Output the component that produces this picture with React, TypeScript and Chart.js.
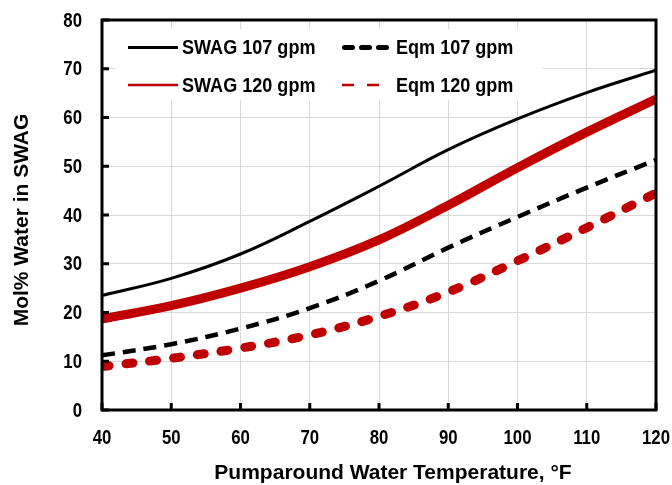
import React, { useEffect, useRef } from "react";
import { Chart, registerables } from "chart.js";

Chart.register(...registerables);

// ---- data ----
const temps = [40, 50, 60, 70, 80, 90, 100, 110, 120];
const swag107 = [23.5, 27.0, 32.0, 38.7, 45.9, 53.4, 59.7, 65.1, 69.7];
const swag120 = [18.7, 21.4, 25.0, 29.4, 34.9, 42.0, 49.7, 57.0, 63.8];
const eqm107 = [11.2, 13.5, 16.7, 20.9, 26.5, 33.3, 39.6, 45.6, 51.3];
const eqm120 = [8.9, 10.6, 12.7, 15.4, 19.2, 24.2, 30.6, 37.4, 44.5];

const seriesLabels = ["SWAG 107 gpm", "Eqm 107 gpm", "SWAG 120 gpm", "Eqm 120 gpm"];
const xTitle = "Pumparound Water Temperature, \u00B0F";
const yTitle = "Mol% Water in SWAG";

const BLACK = "#000000";
const RED = "#c00000";
const GRID = "#d9d9d9";
const SANS = "'Liberation Sans', Arial, sans-serif";
const NARROW_SCALE = 0.84; // horizontal squeeze to imitate a narrow face

const toPts = (ys: number[]) => temps.map((t, i) => ({ x: t, y: ys[i] }));

// legend sample styles (col/row layout inside the plot area)
const legendItems = [
  { label: seriesLabels[0], color: BLACK, width: 3, dash: [] as number[], cap: "butt", col: 0, row: 0 },
  { label: seriesLabels[1], color: BLACK, width: 5, dash: [8, 9], cap: "round", col: 1, row: 0 },
  { label: seriesLabels[2], color: RED, width: 2.5, dash: [] as number[], cap: "butt", col: 0, row: 1 },
  { label: seriesLabels[3], color: RED, width: 2.5, dash: [12, 13], cap: "butt", col: 1, row: 1 },
];

function narrowText(ctx: any, text: string, x: number, y: number, align: string, sx: number) {
  ctx.save();
  ctx.translate(x, y);
  ctx.scale(sx, 1);
  ctx.textAlign = align;
  ctx.fillText(text, 0, 0);
  ctx.restore();
}

const legendPlugin = {
  id: "customLegend",
  afterDatasetsDraw(chart: any) {
    const { ctx, chartArea: a } = chart;
    ctx.save();
    ctx.fillStyle = "#ffffff";
    ctx.fillRect(a.left + 13, a.top + 9, 428, 71);
    const colX = [a.left + 26, a.left + 240];
    const rowY = [a.top + 27.5, a.top + 65];
    const sampleLen = 50;
    ctx.font = `bold 21px ${SANS}`;
    ctx.textBaseline = "middle";
    legendItems.forEach((it) => {
      const x0 = colX[it.col];
      const y0 = rowY[it.row];
      ctx.beginPath();
      ctx.setLineDash(it.dash);
      ctx.lineCap = it.cap;
      ctx.lineWidth = it.width;
      ctx.strokeStyle = it.color;
      ctx.moveTo(x0 + (it.cap === "round" ? it.width / 2 : 0), y0);
      ctx.lineTo(x0 + sampleLen, y0);
      ctx.stroke();
      ctx.setLineDash([]);
      ctx.fillStyle = BLACK;
      narrowText(ctx, it.label, x0 + sampleLen + 4, y0 + 1, "left", 0.86);
    });
    ctx.restore();
  },
};

const framePlugin = {
  id: "frameTicks",
  afterDraw(chart: any) {
    const { ctx, chartArea: a, scales } = chart;
    const xs = scales.x;
    const ys = scales.y;
    ctx.save();
    ctx.strokeStyle = BLACK;
    ctx.lineWidth = 3;
    ctx.lineCap = "butt";
    ctx.beginPath();
    xs.ticks.forEach((t: any) => {
      const px = xs.getPixelForValue(t.value);
      ctx.moveTo(px, a.bottom);
      ctx.lineTo(px, a.bottom - 7);
    });
    ys.ticks.forEach((t: any) => {
      const py = ys.getPixelForValue(t.value);
      ctx.moveTo(a.left, py);
      ctx.lineTo(a.left + 7, py);
    });
    ctx.stroke();
    ctx.strokeRect(a.left, a.top, a.right - a.left, a.bottom - a.top);

    // tick labels (narrow bold)
    ctx.fillStyle = BLACK;
    ctx.font = `bold 20px ${SANS}`;
    ctx.textBaseline = "middle";
    xs.ticks.forEach((t: any) => {
      const px = xs.getPixelForValue(t.value);
      narrowText(ctx, String(t.label), px, a.bottom + 28, "center", NARROW_SCALE);
    });
    ys.ticks.forEach((t: any) => {
      const py = ys.getPixelForValue(t.value);
      narrowText(ctx, String(t.label), a.left - 20, py + 1, "right", NARROW_SCALE);
    });

    // axis titles
    ctx.font = `bold 21px ${SANS}`;
    narrowText(ctx, xTitle, (a.left + a.right) / 2 + 14, a.bottom + 63, "center", 1);
    ctx.save();
    ctx.translate(22, (a.top + a.bottom) / 2 + 5);
    ctx.rotate(-Math.PI / 2);
    ctx.textAlign = "center";
    ctx.fillText(yTitle, 0, 0);
    ctx.restore();
    ctx.restore();
  },
};

export default function App() {
  const ref = useRef<HTMLCanvasElement | null>(null);

  useEffect(() => {
    if (!ref.current) return;
    const chart = new Chart(ref.current, {
      type: "line",
      data: {
        datasets: [
          {
            label: seriesLabels[0],
            data: toPts(swag107),
            borderColor: BLACK,
            borderWidth: 3,
            pointRadius: 0,
            tension: 0.4,
            clip: 0,
          },
          {
            label: seriesLabels[1],
            data: toPts(eqm107),
            borderColor: BLACK,
            borderWidth: 4.5,
            borderDash: [13, 8],
            pointRadius: 0,
            tension: 0.4,
            clip: 0,
          },
          {
            label: seriesLabels[2],
            data: toPts(swag120),
            borderColor: RED,
            borderWidth: 9,
            pointRadius: 0,
            tension: 0.4,
            clip: 0,
          },
          {
            label: seriesLabels[3],
            data: toPts(eqm120),
            borderColor: RED,
            borderWidth: 9,
            borderDash: [7, 17],
            borderCapStyle: "round",
            pointRadius: 0,
            tension: 0.4,
            clip: 0,
          },
        ],
      } as any,
      options: {
        animation: false,
        responsive: false,
        maintainAspectRatio: false,
        layout: { padding: { left: 0, top: 20, right: 16, bottom: 0 } },
        plugins: {
          legend: { display: false },
          tooltip: { enabled: false },
        },
        scales: {
          x: {
            type: "linear",
            min: 40,
            max: 120,
            ticks: { stepSize: 10, display: false },
            grid: { color: GRID, lineWidth: 1, drawTicks: false },
            border: { display: false },
            title: { display: false, text: xTitle },
            afterFit: (s: any) => {
              s.height = 75;
              s.paddingLeft = 0;
              s.paddingRight = 0;
            },
          },
          y: {
            min: 0,
            max: 80,
            ticks: { stepSize: 10, display: false },
            grid: { color: GRID, lineWidth: 1, drawTicks: false },
            border: { display: false },
            title: { display: false, text: yTitle },
            afterFit: (s: any) => {
              s.width = 102;
              s.paddingTop = 0;
              s.paddingBottom = 0;
            },
          },
        },
      } as any,
      plugins: [legendPlugin, framePlugin],
    });
    return () => chart.destroy();
  }, []);

  return (
    <div style={{ position: "fixed", left: 0, top: 0, width: 672, height: 485, background: "#ffffff" }}>
      <canvas ref={ref} width={672} height={485} style={{ width: 672, height: 485 }} />
    </div>
  );
}
